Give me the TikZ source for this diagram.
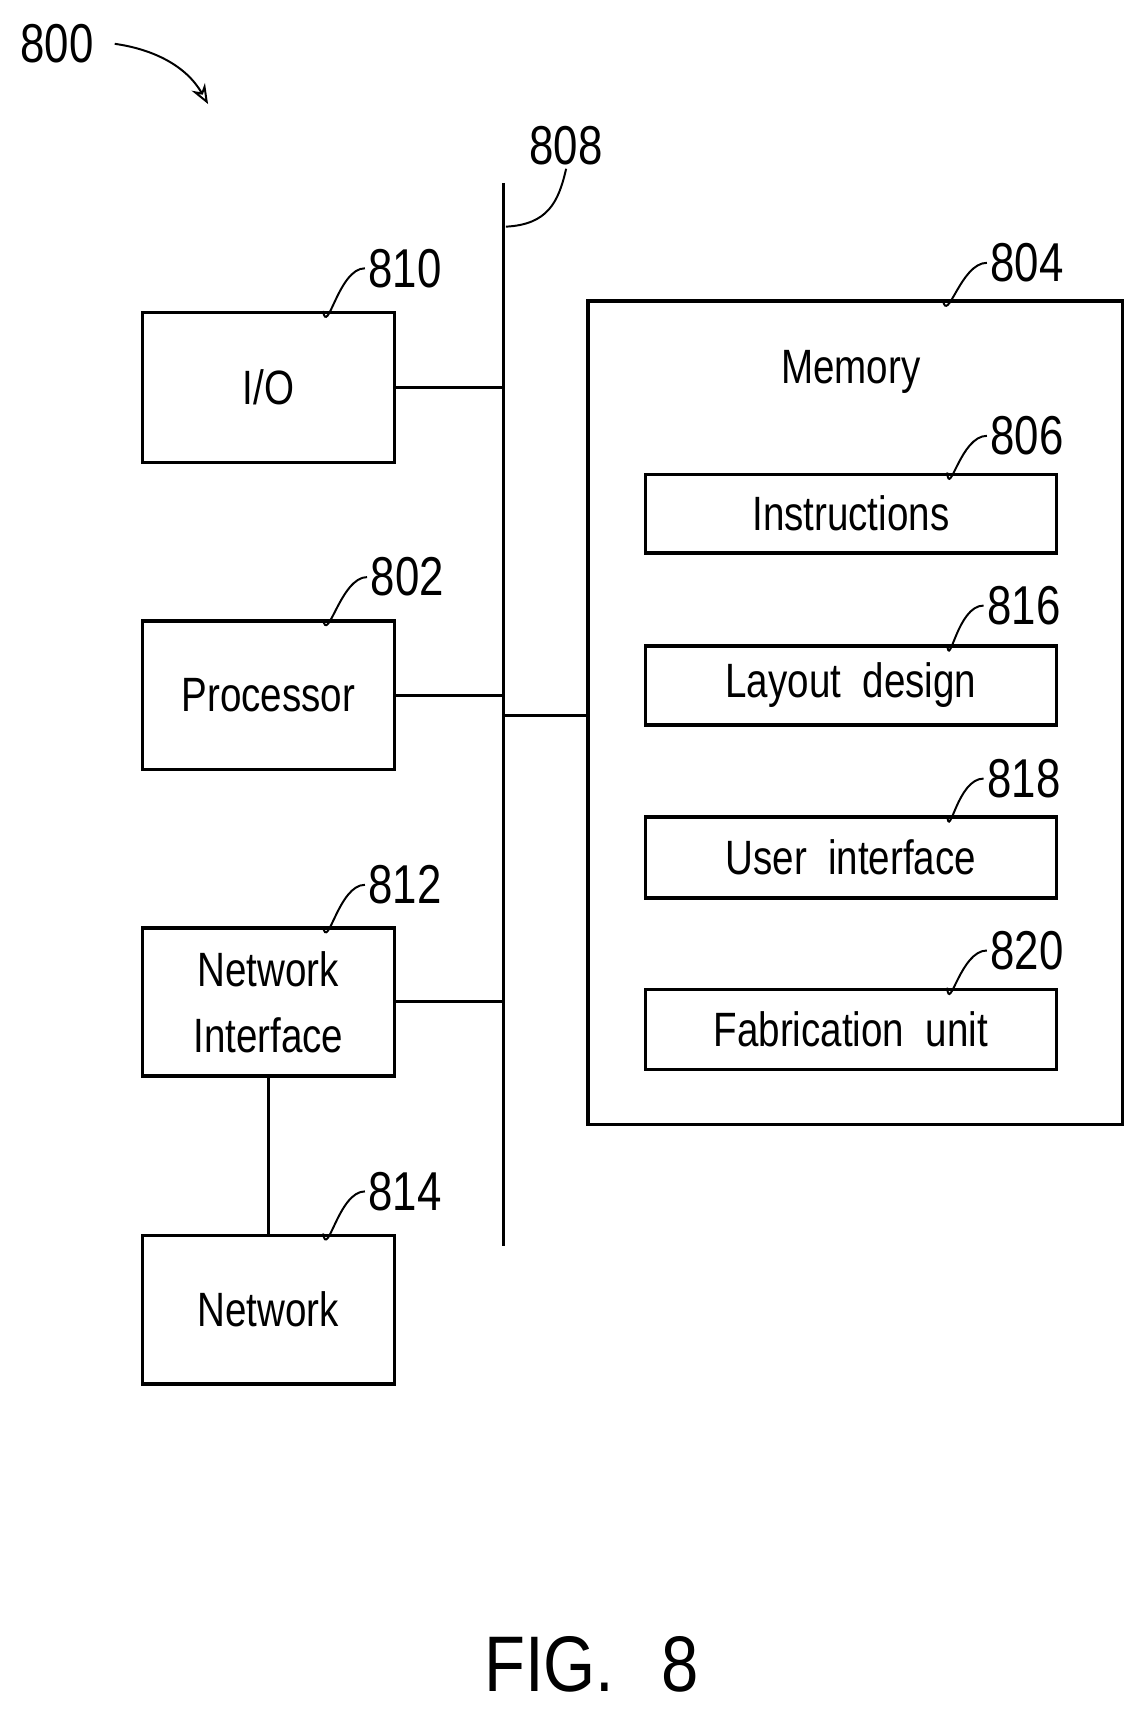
\documentclass[tikz,border=0pt]{standalone}
\usepackage{fontspec}
\setmainfont{Liberation Sans}[FakeStretch=0.8,WordSpace=2]
\newfontfamily\capfont{Liberation Sans}[FakeStretch=0.85,WordSpace=2.5]
\usetikzlibrary{arrows.meta}
\tikzset{every picture/.style={line width=1.4pt},
  blk/.style={draw,line width=1.5pt,align=center,inner sep=0pt,font=\fontsize{22}{30}\selectfont},
  num/.style={inner sep=1pt,font=\fontsize{25}{28}\selectfont},
  lead/.style={line width=0.9pt}}

\begin{document}
\begin{tikzpicture}[x=0.5pt,y=0.5pt,yscale=-1,xscale=1]
	\useasboundingbox (0,0) rectangle (1046,1568);
	
	%Label 800 with arrow
	\node[num] (l800) at (52,40) {800};
	\coordinate (a800) at (190,95);
	\draw[lead,-{Stealth[length=9pt,width=7pt,open]}] ([xshift=8pt]l800.east) .. controls (140,45) and (170,60) .. (a800);
	
	%Bus 808
	\coordinate (bt) at (460,167);
	\coordinate (bb) at (460,1138);
	\draw (bt) -- (bb);
	\node[num] (l808) at (517,133) {808};
	\draw[lead] (462,207) .. controls (500,205) and (510,185) .. (l808.south);
	
	%Left blocks
	\node[blk,minimum width=115pt,minimum height=68.5pt] (io) at (245,354) {I/O};
	\node[blk,minimum width=115pt,minimum height=68pt] (cpu) at (245,635) {Processor};
	\node[blk,minimum width=115pt,minimum height=67.5pt] (ni) at (245,915) {Network\\Interface};
	\node[blk,minimum width=115pt,minimum height=68pt] (net) at (245,1196) {Network};
	
	\node[num] (l810) at (370,245) {810};
	\node[num] (l802) at (372,527) {802};
	\node[num] (l812) at (370,808) {812};
	\node[num] (l814) at (370,1088) {814};
	\foreach \b/\l in {io/l810,cpu/l802,ni/l812,net/l814}
	  \draw[lead] ([xshift=25pt]\b.north) .. controls ([xshift=27pt,yshift=12pt]\b.north) and ([xshift=-12pt]\l.west) .. (\l.west);
	
	%Connections to bus
	\draw (io.east) -- (io.east -| bt);
	\draw (cpu.east) -- (cpu.east -| bt);
	\draw (ni.east) -- (ni.east -| bt);
	\draw (ni.south) -- (net.north);
	
	%Memory
	\node[blk,minimum width=244pt,minimum height=376pt] (mem) at (781,651) {};
	\node[font=\fontsize{22}{30}\selectfont] (mtxt) at (777,340) {Memory};
	\draw (460,653) -- (460,653 -| mem.west);
	\node[num] (l804) at (938,240) {804};
	\draw[lead] ([xshift=40pt]mem.north) .. controls ([xshift=42pt,yshift=12pt]mem.north) and ([xshift=-12pt]l804.west) .. (l804.west);
	
	\node[blk,minimum width=187.5pt,minimum height=36pt] (ins) at (777,469) {Instructions};
	\node[blk,minimum width=187.5pt,minimum height=36pt] (lay) at (777,626) {Layout design};
	\node[blk,minimum width=187.5pt,minimum height=37pt] (ui) at (777,783) {User interface};
	\node[blk,minimum width=187.5pt,minimum height=36.5pt] (fab) at (777,940) {Fabrication unit};
	
	\node[num] (l806) at (938,398) {806};
	\node[num] (l816) at (935,553) {816};
	\node[num] (l818) at (935,711) {818};
	\node[num] (l820) at (938,868) {820};
	\foreach \b/\l in {ins/l806,lay/l816,ui/l818,fab/l820}
	  \draw[lead] ([xshift=44pt]\b.north) .. controls ([xshift=45pt,yshift=12pt]\b.north) and ([xshift=-12pt]\l.west) .. (\l.west);
	
	% Caption
	\node[font=\fontsize{36}{40}\capfont] (cap) at (540,1520) {FIG. 8};
	
\end{tikzpicture}
\end{document}
